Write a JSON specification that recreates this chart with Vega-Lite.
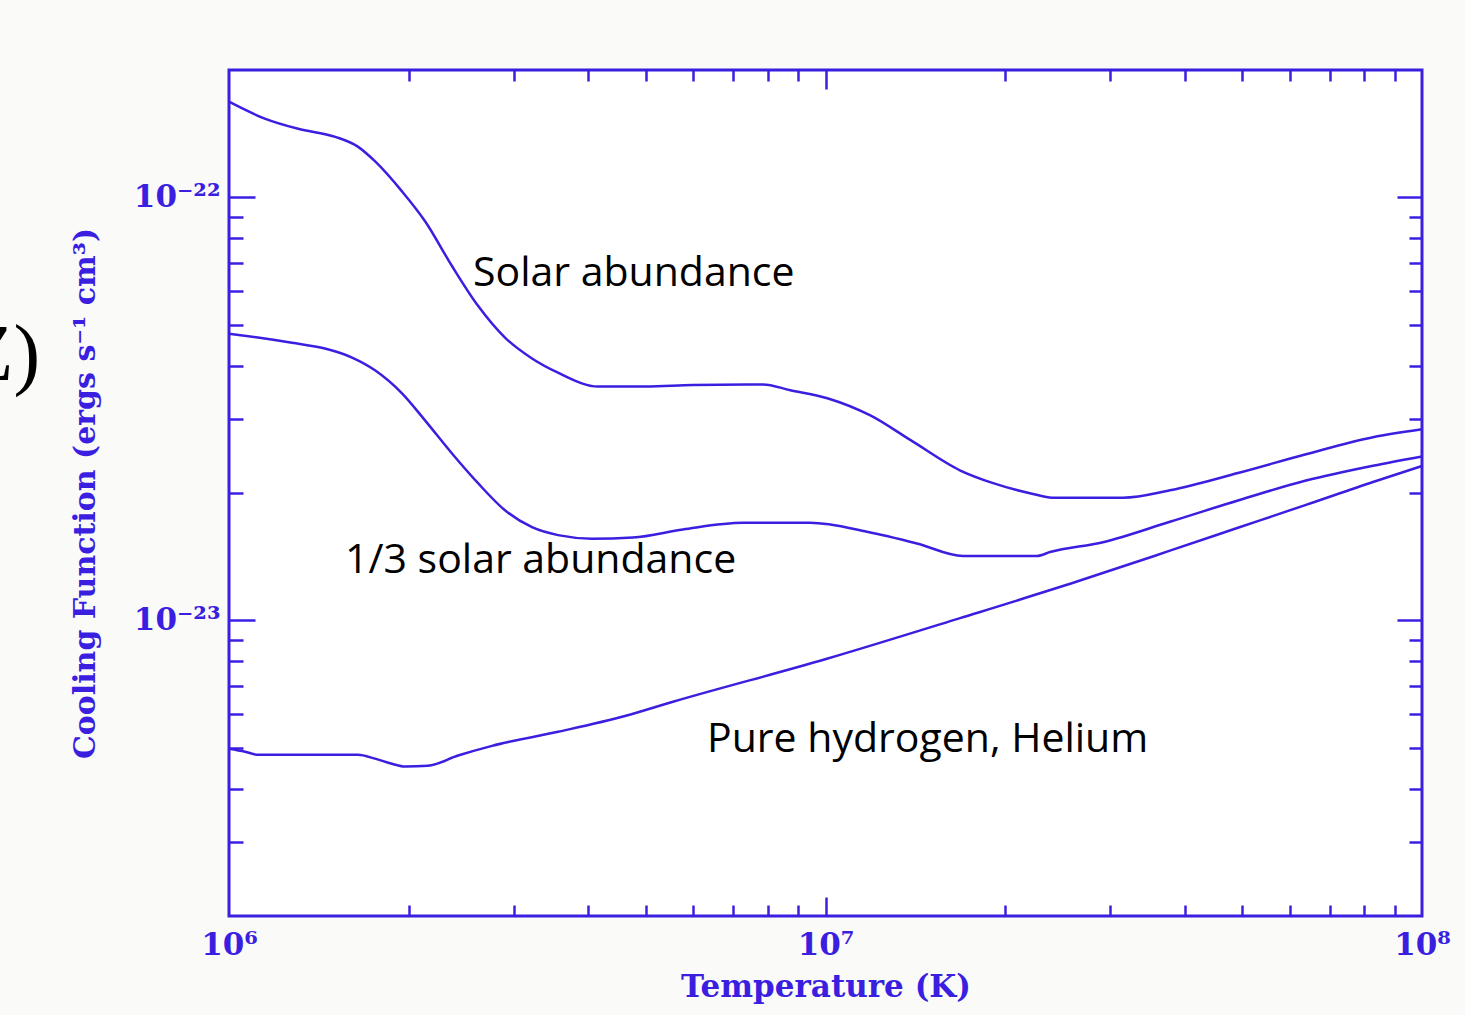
{
  "$schema": "https://vega.github.io/schema/vega-lite/v6.json",
  "width": 1193,
  "height": 846,
  "autosize": {"type": "none"},
  "padding": {"left": 229, "top": 70, "right": 43, "bottom": 99},
  "background": "#fafaf8",
  "config": {
    "view": {"fill": "white", "stroke": "#3a1fe0", "strokeWidth": 3},
    "axis": {"grid": false, "domain": false, "tickColor": "#3a1fe0", "tickWidth": 2.5, "labelColor": "#3a1fe0", "titleColor": "#3a1fe0", "labelFont": "DejaVu Serif", "titleFont": "DejaVu Serif", "labelFontWeight": "bold", "titleFontWeight": "bold"}
  },
  "datasets": {
    "curves": [
      {"series": "solar", "T": 1000000, "L": 1.683e-22},
      {"series": "solar", "T": 1148000, "L": 1.535e-22},
      {"series": "solar", "T": 1306000, "L": 1.452e-22},
      {"series": "solar", "T": 1507000, "L": 1.390e-22},
      {"series": "solar", "T": 1644000, "L": 1.318e-22},
      {"series": "solar", "T": 1758000, "L": 1.216e-22},
      {"series": "solar", "T": 1950000, "L": 1.033e-22},
      {"series": "solar", "T": 2133000, "L": 8.77e-23},
      {"series": "solar", "T": 2365000, "L": 6.88e-23},
      {"series": "solar", "T": 2615000, "L": 5.54e-23},
      {"series": "solar", "T": 2902000, "L": 4.66e-23},
      {"series": "solar", "T": 3221000, "L": 4.16e-23},
      {"series": "solar", "T": 3561000, "L": 3.85e-23},
      {"series": "solar", "T": 4159000, "L": 3.57e-23},
      {"series": "solar", "T": 5000000, "L": 3.57e-23},
      {"series": "solar", "T": 6000000, "L": 3.60e-23},
      {"series": "solar", "T": 7852000, "L": 3.61e-23},
      {"series": "solar", "T": 8730000, "L": 3.50e-23},
      {"series": "solar", "T": 10070000, "L": 3.35e-23},
      {"series": "solar", "T": 11890000, "L": 3.05e-23},
      {"series": "solar", "T": 13870000, "L": 2.67e-23},
      {"series": "solar", "T": 16830000, "L": 2.26e-23},
      {"series": "solar", "T": 19100000, "L": 2.11e-23},
      {"series": "solar", "T": 22280000, "L": 1.99e-23},
      {"series": "solar", "T": 23970000, "L": 1.95e-23},
      {"series": "solar", "T": 31530000, "L": 1.95e-23},
      {"series": "solar", "T": 37800000, "L": 2.03e-23},
      {"series": "solar", "T": 49140000, "L": 2.23e-23},
      {"series": "solar", "T": 63900000, "L": 2.47e-23},
      {"series": "solar", "T": 82760000, "L": 2.71e-23},
      {"series": "solar", "T": 100000000, "L": 2.83e-23},
      {"series": "third", "T": 1000000, "L": 4.76e-23},
      {"series": "third", "T": 1118000, "L": 4.66e-23},
      {"series": "third", "T": 1275000, "L": 4.53e-23},
      {"series": "third", "T": 1448000, "L": 4.39e-23},
      {"series": "third", "T": 1608000, "L": 4.18e-23},
      {"series": "third", "T": 1757000, "L": 3.90e-23},
      {"series": "third", "T": 1950000, "L": 3.44e-23},
      {"series": "third", "T": 2131000, "L": 2.97e-23},
      {"series": "third", "T": 2365000, "L": 2.48e-23},
      {"series": "third", "T": 2615000, "L": 2.11e-23},
      {"series": "third", "T": 2902000, "L": 1.82e-23},
      {"series": "third", "T": 3221000, "L": 1.66e-23},
      {"series": "third", "T": 3561000, "L": 1.59e-23},
      {"series": "third", "T": 4060000, "L": 1.56e-23},
      {"series": "third", "T": 4757000, "L": 1.57e-23},
      {"series": "third", "T": 5770000, "L": 1.64e-23},
      {"series": "third", "T": 7273000, "L": 1.70e-23},
      {"series": "third", "T": 9419000, "L": 1.70e-23},
      {"series": "third", "T": 11740000, "L": 1.62e-23},
      {"series": "third", "T": 14230000, "L": 1.52e-23},
      {"series": "third", "T": 17000000, "L": 1.42e-23},
      {"series": "third", "T": 22620000, "L": 1.42e-23},
      {"series": "third", "T": 23790000, "L": 1.45e-23},
      {"series": "third", "T": 29190000, "L": 1.53e-23},
      {"series": "third", "T": 37800000, "L": 1.71e-23},
      {"series": "third", "T": 49140000, "L": 1.92e-23},
      {"series": "third", "T": 63900000, "L": 2.14e-23},
      {"series": "third", "T": 82760000, "L": 2.32e-23},
      {"series": "third", "T": 100000000, "L": 2.44e-23},
      {"series": "pure", "T": 1000000, "L": 4.97e-24},
      {"series": "pure", "T": 1064000, "L": 4.89e-24},
      {"series": "pure", "T": 1118000, "L": 4.81e-24},
      {"series": "pure", "T": 1645000, "L": 4.81e-24},
      {"series": "pure", "T": 1757000, "L": 4.71e-24},
      {"series": "pure", "T": 1876000, "L": 4.58e-24},
      {"series": "pure", "T": 1973000, "L": 4.51e-24},
      {"series": "pure", "T": 2156000, "L": 4.53e-24},
      {"series": "pure", "T": 2421000, "L": 4.79e-24},
      {"series": "pure", "T": 2760000, "L": 5.05e-24},
      {"series": "pure", "T": 3561000, "L": 5.45e-24},
      {"series": "pure", "T": 4612000, "L": 5.94e-24},
      {"series": "pure", "T": 5551000, "L": 6.42e-24},
      {"series": "pure", "T": 10020000, "L": 8.10e-24},
      {"series": "pure", "T": 16810000, "L": 1.012e-23},
      {"series": "pure", "T": 26400000, "L": 1.235e-23},
      {"series": "pure", "T": 37800000, "L": 1.461e-23},
      {"series": "pure", "T": 49140000, "L": 1.655e-23},
      {"series": "pure", "T": 63900000, "L": 1.875e-23},
      {"series": "pure", "T": 82760000, "L": 2.124e-23},
      {"series": "pure", "T": 100000000, "L": 2.316e-23}
    ],
    "notes": [
      {"label": "Solar abundance", "T": 2565000, "L": 6.17e-23},
      {"label": "1/3 solar abundance", "T": 1565000, "L": 1.291e-23},
      {"label": "Pure hydrogen, Helium", "T": 6330000, "L": 4.89e-24}
    ],
    "fragment": [
      {"label": "Z)", "T": 482300, "L": 3.69e-23}
    ]
  },
  "resolve": {"axis": {"x": "independent", "y": "independent"}},
  "layer": [
    {
      "data": {"name": "curves"},
      "mark": {"type": "line", "color": "#3a1fe0", "strokeWidth": 2.5, "interpolate": "monotone"},
      "encoding": {
        "x": {"field": "T", "type": "quantitative",
              "scale": {"type": "log", "domain": [1000000, 100000000], "nice": false},
              "axis": {"orient": "bottom", "values": [1000000, 10000000, 100000000], "ticks": false,
                       "labelExpr": "datum.value > 50000000 ? '10⁸' : datum.value > 5000000 ? '10⁷' : '10⁶'",
                       "labelFontSize": 31, "labelPadding": 14, "labelBaseline": "top", "labelFlush": false,
                       "title": "Temperature (K)", "titleFontSize": 31, "titlePadding": 12}},
        "y": {"field": "L", "type": "quantitative",
              "scale": {"type": "log", "domain": [2e-24, 2e-22], "nice": false},
              "axis": {"orient": "left", "values": [1e-23, 1e-22], "ticks": false,
                       "labelExpr": "datum.value > 5e-23 ? '10⁻²²' : '10⁻²³'",
                       "labelFontSize": 31, "labelPadding": 9, "labelBaseline": "middle", "labelOffset": 0, "labelFlush": false,
                       "title": "Cooling Function (ergs s⁻¹ cm³)", "titleFontSize": 30, "titlePadding": 33}},
        "detail": {"field": "series"}
      }
    },
    {
      "data": {"name": "notes"},
      "mark": {"type": "text", "font": "Open Sans", "fontSize": 41, "align": "left", "baseline": "alphabetic", "color": "black"},
      "encoding": {
        "x": {"field": "T", "type": "quantitative",
              "axis": {"orient": "bottom", "values": [2000000, 3000000, 4000000, 5000000, 6000000, 7000000, 8000000, 9000000, 20000000, 30000000, 40000000, 50000000, 60000000, 70000000, 80000000, 90000000],
                       "tickSize": -11, "labels": false, "title": null}},
        "y": {"field": "L", "type": "quantitative",
              "axis": {"orient": "left", "values": [3e-24, 4e-24, 5e-24, 6e-24, 7e-24, 8e-24, 9e-24, 2e-23, 3e-23, 4e-23, 5e-23, 6e-23, 7e-23, 8e-23, 9e-23],
                       "tickSize": -14, "labels": false, "title": null}},
        "text": {"field": "label"}
      }
    },
    {
      "data": {"name": "fragment"},
      "mark": {"type": "text", "font": "Liberation Serif", "fontSize": 80, "align": "right", "baseline": "alphabetic", "color": "black"},
      "encoding": {
        "x": {"field": "T", "type": "quantitative",
              "axis": {"orient": "bottom", "values": [10000000], "tickSize": -19, "labels": false, "title": null}},
        "y": {"field": "L", "type": "quantitative",
              "axis": {"orient": "left", "values": [1e-23, 1e-22], "tickSize": -26, "labels": false, "title": null}},
        "text": {"field": "label"}
      }
    },
    {
      "data": {"name": "curves"},
      "mark": {"type": "line", "strokeOpacity": 0},
      "encoding": {
        "x": {"field": "T", "type": "quantitative",
              "axis": {"orient": "top", "values": [2000000, 3000000, 4000000, 5000000, 6000000, 7000000, 8000000, 9000000, 20000000, 30000000, 40000000, 50000000, 60000000, 70000000, 80000000, 90000000],
                       "tickSize": -11, "labels": false, "title": null}},
        "y": {"field": "L", "type": "quantitative",
              "axis": {"orient": "right", "values": [3e-24, 4e-24, 5e-24, 6e-24, 7e-24, 8e-24, 9e-24, 2e-23, 3e-23, 4e-23, 5e-23, 6e-23, 7e-23, 8e-23, 9e-23],
                       "tickSize": -13, "labels": false, "title": null}},
        "detail": {"field": "series"}
      }
    },
    {
      "data": {"name": "curves"},
      "mark": {"type": "line", "strokeOpacity": 0},
      "encoding": {
        "x": {"field": "T", "type": "quantitative",
              "axis": {"orient": "top", "values": [10000000], "tickSize": -19, "labels": false, "title": null}},
        "y": {"field": "L", "type": "quantitative",
              "axis": {"orient": "right", "values": [1e-23, 1e-22], "tickSize": -25, "labels": false, "title": null}},
        "detail": {"field": "series"}
      }
    }
  ]
}
